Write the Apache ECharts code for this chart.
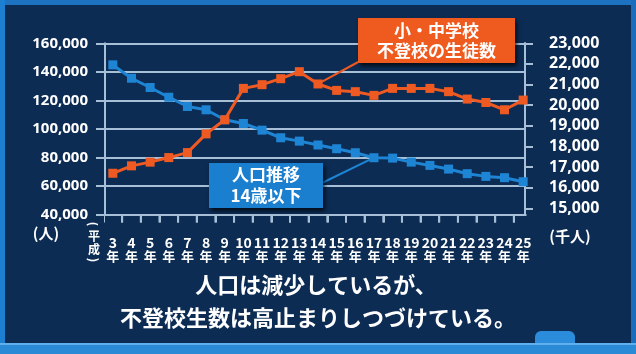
<!DOCTYPE html>
<html>
<head>
<meta charset="utf-8">
<script src="https://cdn.jsdelivr.net/npm/echarts@6/dist/echarts.min.js"></script>
<style>
html,body{margin:0;padding:0;background:#0c2c54;}
#c{width:636px;height:354px;}
</style>
</head>
<body>
<div id="c"></div>
<script>
// ---- data ----
const years = ['3','4','5','6','7','8','9','10','11','12','13','14','15','16','17','18','19','20','21','22','23','24','25'];
// 小・中学校 不登校の生徒数 (人) - left axis
const futoko = [68900, 74100, 76700, 79900, 83400, 96500, 106400, 128400, 131000, 135200, 140100, 131500, 127000, 126100, 123500, 128400, 128400, 128400, 126100, 120900, 118500, 113400, 120200];
// 人口推移 14歳以下 (千人) - right axis
const population = [21955, 21306, 20856, 20386, 19936, 19776, 19292, 19113, 18789, 18421, 18257, 18070, 17889, 17695, 17453, 17434, 17240, 17080, 16902, 16679, 16548, 16485, 16291];
const leftMin = 40000, leftMax = 160000, leftStep = 20000;
const rightMin = 15000, rightMax = 23000, rightStep = 1000;
const leftUnit = '(人)';
const rightUnit = '(千人)';
const yearSuffix = '年';
const futokoLabel = '小・中学校\n不登校の生徒数';
const popLabel = '人口推移\n14歳以下';
const caption1 = '人口は減少しているが、';
const caption2 = '不登校生数は高止まりしつづけている。';

const ORANGE = '#ef5a22';
const BLUE = '#1e84d4';
const GRIDC = '#a7c0d8';
const BG = '#0c2c54';
const JP = '"Noto Sans CJK JP", "Noto Sans", sans-serif';

const chart = echarts.init(document.getElementById('c'), null, {renderer: 'canvas'});
const fmt = v => v.toLocaleString('en-US');
const tickStyle = {color: GRIDC, width: 2};

const option = {
  animation: false,
  backgroundColor: BG,
  grid: [
    {left: 103.5, right: 103.5, top: 43.3, bottom: 139.5},
    {left: 105, right: 111, top: 43.3, bottom: 139.5},
    {left: 105, right: 111, top: 43.3, bottom: 145.7}
  ],
  xAxis: [
    {gridIndex: 0, type: 'category', data: years, boundaryGap: true,
     axisLine: {show: true, onZero: false, lineStyle: {color: GRIDC, width: 2}},
     axisTick: {show: true, length: 8, interval: 0, lineStyle: tickStyle},
     axisLabel: {interval: 0, margin: 22, formatter: v => '{n|' + v + '}\n{y|' + yearSuffix + '}',
       rich: {n: {fontSize: 14, fontWeight: 'bold', color: '#fff', lineHeight: 13, fontFamily: JP},
              y: {fontSize: 13, fontWeight: 'bold', color: '#fff', lineHeight: 14, fontFamily: JP}}},
     splitLine: {show: false}},
    {gridIndex: 1, type: 'value', min: 0, max: 1,
     axisLine: {show: true, onZero: false, lineStyle: {color: GRIDC, width: 2}},
     axisTick: {show: false}, axisLabel: {show: false}, splitLine: {show: false}},
    {gridIndex: 2, type: 'value', min: 0, max: 1, show: false}
  ],
  yAxis: [
    {gridIndex: 0, type: 'value', min: leftMin, max: leftMax, show: false},
    {gridIndex: 0, type: 'value', min: 14700, max: rightMax, show: false},
    {gridIndex: 1, type: 'value', position: 'left', min: leftMin, max: leftMax, interval: leftStep,
     axisLine: {show: true, onZero: false, lineStyle: {color: GRIDC, width: 2}},
     axisTick: {show: true, length: 9, lineStyle: tickStyle},
     axisLabel: {margin: 17, color: '#fff', fontSize: 15, fontWeight: 'bold', fontFamily: '"Noto Sans", sans-serif', formatter: fmt},
     splitLine: {show: true, lineStyle: {color: GRIDC, width: 2}}},
    {gridIndex: 1, type: 'value', position: 'right', min: 0, max: 1,
     axisLine: {show: true, onZero: false, lineStyle: {color: GRIDC, width: 2}},
     axisTick: {show: false}, axisLabel: {show: false}, splitLine: {show: false}},
    {gridIndex: 2, type: 'value', position: 'right', min: rightMin, max: rightMax, interval: rightStep,
     axisLine: {show: true, onZero: false, lineStyle: {color: GRIDC, width: 2}},
     axisTick: {show: true, length: 8, lineStyle: tickStyle},
     axisLabel: {margin: 24, color: '#fff', fontSize: 16, fontWeight: 'bold', fontFamily: '"Noto Sans", sans-serif', formatter: fmt},
     splitLine: {show: false}}
  ],
  series: [
    {type: 'line', name: 'pop', xAxisIndex: 0, yAxisIndex: 1, data: population, z: 3,
     symbol: 'rect', symbolSize: 9, showSymbol: true,
     lineStyle: {color: BLUE, width: 3}, itemStyle: {color: BLUE}},
    {type: 'line', name: 'futoko', xAxisIndex: 0, yAxisIndex: 0, data: futoko, z: 4,
     symbol: 'rect', symbolSize: 9, showSymbol: true,
     lineStyle: {color: ORANGE, width: 3}, itemStyle: {color: ORANGE}}
  ]
};
chart.setOption(option);

// annotation anchors & ticks from the library's scales
const pO = chart.convertToPixel({seriesIndex: 1}, [11, futoko[11]]);
const pB = chart.convertToPixel({seriesIndex: 0}, [14, population[14]]);
const xPix = i => chart.convertToPixel({xAxisIndex: 0}, i);
const axisY = chart.convertToPixel({yAxisIndex: 2}, leftMin);

const tickEls = [];
for (let i = 0; i < years.length - 1; i++) {
  const x = (xPix(i) + xPix(i + 1)) / 2;
  tickEls.push({type: 'line', z: 6, shape: {x1: x, y1: axisY, x2: x, y2: axisY + 8}, style: {stroke: GRIDC, lineWidth: 2}});
}

const graphic = [
  // frame decorations
  {type: 'rect', shape: {x: 0, y: 0, width: 636, height: 5}, style: {fill: '#1d73c2'}, z: 1},
  {type: 'rect', shape: {x: 0, y: 0, width: 5, height: 354}, style: {fill: '#1d7fd2'}, z: 1},
  {type: 'rect', shape: {x: 631, y: 0, width: 5, height: 354}, style: {fill: '#1a6cbc'}, z: 1},
  {type: 'rect', shape: {x: 535, y: 331, width: 40, height: 13, r: [6, 6, 0, 0]}, style: {fill: '#2a8cdb'}, z: 1},
  {type: 'rect', shape: {x: 0, y: 343, width: 636, height: 11}, style: {fill: '#2a8ad6'}, z: 1},
  {type: 'rect', shape: {x: 0, y: 343, width: 636, height: 2}, style: {fill: '#5fb0ec'}, z: 1},
  // hide the band-edge end ticks and the overhang of the category axis line
  {type: 'rect', shape: {x: 98, y: 216, width: 6, height: 10}, style: {fill: BG}, z: 100},
  {type: 'rect', shape: {x: 526.5, y: 212, width: 8, height: 14}, style: {fill: BG}, z: 100},
  ...tickEls,
  // connectors
  {type: 'line', shape: {x1: pO[0], y1: pO[1], x2: 360, y2: 61}, style: {stroke: ORANGE, lineWidth: 2}, z: 5},
  {type: 'line', shape: {x1: pB[0], y1: pB[1], x2: 322, y2: 183}, style: {stroke: BLUE, lineWidth: 2}, z: 5},
  // orange box
  {type: 'rect', shape: {x: 358, y: 18, width: 157, height: 45},
   style: {fill: '#ef5a1f', shadowColor: 'rgba(0,0,0,0.7)', shadowBlur: 4, shadowOffsetX: 2, shadowOffsetY: 3}, z: 10},
  {type: 'text', x: 436.5, y: 41, z: 11,
   style: {text: futokoLabel, fill: '#fff', font: 'bold 17px ' + JP, align: 'center', verticalAlign: 'middle', lineHeight: 20}},
  // blue box
  {type: 'rect', shape: {x: 209, y: 163, width: 114, height: 45},
   style: {fill: '#1b7fd0', shadowColor: 'rgba(0,0,0,0.7)', shadowBlur: 4, shadowOffsetX: 2, shadowOffsetY: 3}, z: 10},
  {type: 'text', x: 266, y: 185.5, z: 11,
   style: {text: popLabel, fill: '#fff', font: 'bold 17px ' + JP, align: 'center', verticalAlign: 'middle', lineHeight: 21}},
  // units
  {type: 'text', x: 46, y: 233, z: 11,
   style: {text: leftUnit, fill: '#fff', font: 'bold 15px ' + JP, align: 'center', verticalAlign: 'middle'}},
  {type: 'text', x: 570, y: 236, z: 11,
   style: {text: rightUnit, fill: '#fff', font: 'bold 15px ' + JP, align: 'center', verticalAlign: 'middle'}},
  // vertical era label (平成)
  {type: 'text', x: 94, y: 224, z: 11, rotation: -Math.PI / 2,
   style: {text: '(', fill: '#fff', font: 'bold 12px ' + JP, align: 'center', verticalAlign: 'middle'}},
  {type: 'text', x: 94, y: 236, z: 11,
   style: {text: '平', fill: '#fff', font: 'bold 12px ' + JP, align: 'center', verticalAlign: 'middle'}},
  {type: 'text', x: 94, y: 249, z: 11,
   style: {text: '成', fill: '#fff', font: 'bold 12px ' + JP, align: 'center', verticalAlign: 'middle'}},
  {type: 'text', x: 94, y: 260, z: 11, rotation: -Math.PI / 2,
   style: {text: ')', fill: '#fff', font: 'bold 12px ' + JP, align: 'center', verticalAlign: 'middle'}},
  // caption
  {type: 'text', x: 316, y: 285, z: 11,
   style: {text: caption1, fill: '#fff', font: 'bold 22px ' + JP, align: 'center', verticalAlign: 'middle',
           shadowColor: 'rgba(0,0,0,0.6)', shadowBlur: 3}},
  {type: 'text', x: 318, y: 318, z: 11,
   style: {text: caption2, fill: '#fff', font: 'bold 22px ' + JP, align: 'center', verticalAlign: 'middle',
           shadowColor: 'rgba(0,0,0,0.6)', shadowBlur: 3}}
];
chart.setOption({graphic: graphic});
</script>
</body>
</html>
